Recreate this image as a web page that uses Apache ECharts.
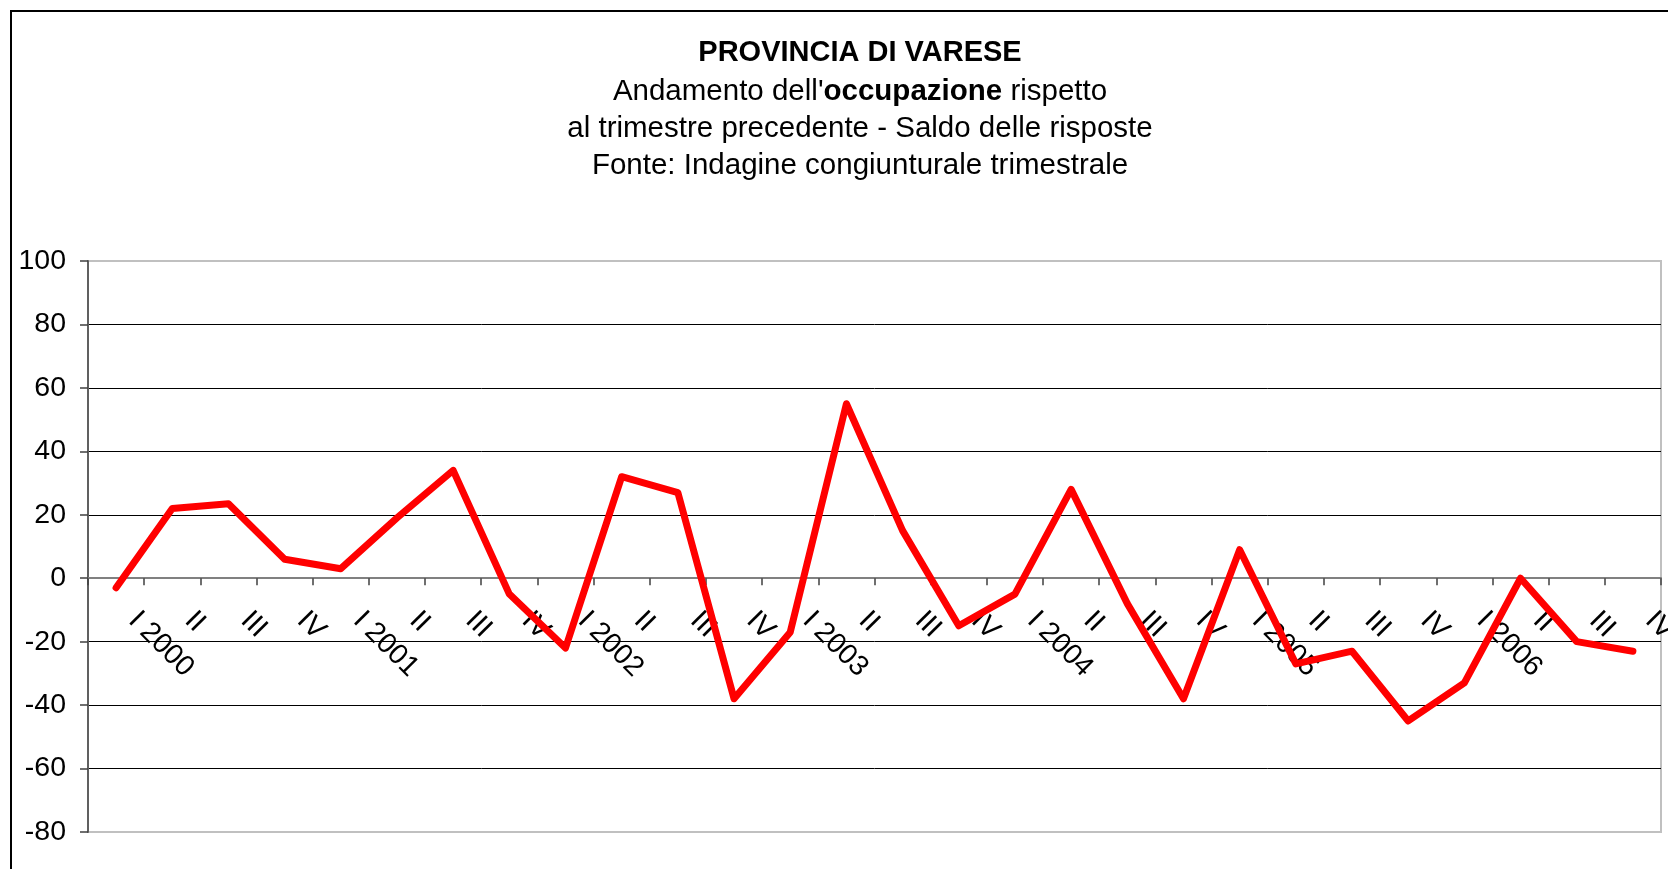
<!DOCTYPE html>
<html lang="it">
<head>
    <meta charset="UTF-8">
    <title>Provincia di Varese - occupazione</title>
    <script src="https://cdn.jsdelivr.net/npm/echarts@6/dist/echarts.min.js"></script>
    <style>
        html, body { margin: 0; padding: 0; background: #fff; }
        #chart { width: 1668px; height: 869px; }
    </style>
</head>
<body>
<div id="chart"></div>
<script type="text/javascript">
    // trimestri
    var categorie = [
        'I 2000', 'II', 'III', 'IV',
        'I 2001', 'II', 'III', 'IV',
        'I 2002', 'II', 'III', 'IV',
        'I 2003', 'II', 'III', 'IV',
        'I 2004', 'II', 'III', 'IV',
        'I 2005', 'II', 'III', 'IV',
        'I 2006', 'II', 'III', 'IV'
    ];
    // saldo delle risposte
    var saldo = [
        -3, 22, 23.5, 6,
        3, 19, 34, -5,
        -22, 32, 27, -38,
        -17, 55, 15, -15,
        -5, 28, -8, -38,
        9, -27, -23, -45,
        -33, 0, -20, -23
    ];
    var yMin = -80, yMax = 100, yStep = 20;

    var font = '"Liberation Sans", Arial, sans-serif';
    var gridTop = 261, gridBottom = 37, chartH = 869;
    // l'asse delle categorie passa per lo zero
    var plotH = chartH - gridTop - gridBottom;
    var zeroOffset = -plotH * (0 - yMin) / (yMax - yMin);

    var myChart = echarts.init(document.getElementById('chart'));

    myChart.setOption({
        animation: false,
        backgroundColor: '#fff',
        textStyle: { fontFamily: font },
        graphic: [{
            type: 'rect',
            shape: { x: 11, y: 11, width: 1720, height: 900 },
            style: { fill: 'none', stroke: '#000', lineWidth: 2 },
            silent: true
        }],
        title: {
            left: 860,
            top: 33,
            textAlign: 'center',
            padding: 0,
            text: '{t|PROVINCIA DI VARESE}\n{n|Andamento dell\'}{b|occupazione}{n| rispetto}\n{n|al trimestre precedente - Saldo delle risposte}\n{n|Fonte: Indagine congiunturale trimestrale}',
            textStyle: {
                fontWeight: 'normal',
                rich: {
                    t: { fontFamily: font, fontSize: 29, fontWeight: 'bold', color: '#000', lineHeight: 40 },
                    n: { fontFamily: font, fontSize: 29.5, fontWeight: 'normal', color: '#000', lineHeight: 37.2 },
                    b: { fontFamily: font, fontSize: 29.5, fontWeight: 'bold', color: '#000', lineHeight: 37.2 }
                }
            }
        },
        grid: {
            left: 88,
            right: 7,
            top: gridTop,
            bottom: gridBottom,
            outerBoundsMode: 'none',
            containLabel: false,
            show: true,
            borderColor: '#c0c0c0',
            borderWidth: 2
        },
        xAxis: {
            type: 'category',
            data: categorie,
            boundaryGap: true,
            offset: zeroOffset,
            axisLine: { onZero: false, lineStyle: { color: '#808080', width: 2 } },
            axisTick: { show: true, length: 7, lineStyle: { color: '#404040', width: 1.5 } },
            axisLabel: {
                interval: 0,
                rotate: -45,
                margin: 21,
                padding: [0, 0, 0, 24],
                color: '#000',
                fontSize: 28.5,
                fontFamily: font
            },
            splitLine: { show: false }
        },
        yAxis: {
            type: 'value',
            min: yMin,
            max: yMax,
            interval: yStep,
            axisLine: { show: true, lineStyle: { color: '#606060', width: 2 } },
            axisTick: { show: true, length: 8, lineStyle: { color: '#404040', width: 1.5 } },
            axisLabel: {
                margin: 22,
                color: '#000',
                fontSize: 28.5,
                fontFamily: font
            },
            splitLine: {
                show: true,
                lineStyle: {
                    color: ['#c0c0c0', '#000', '#000', '#000', '#000', '#000', '#000', '#000', '#000', '#c0c0c0'],
                    width: 1
                }
            }
        },
        series: [{
            name: 'Saldo',
            type: 'line',
            data: saldo,
            showSymbol: false,
            symbol: 'none',
            smooth: false,
            lineStyle: { color: '#ff0000', width: 7, cap: 'round', join: 'round' },
            z: 5
        }]
    });
</script>
</body>
</html>
